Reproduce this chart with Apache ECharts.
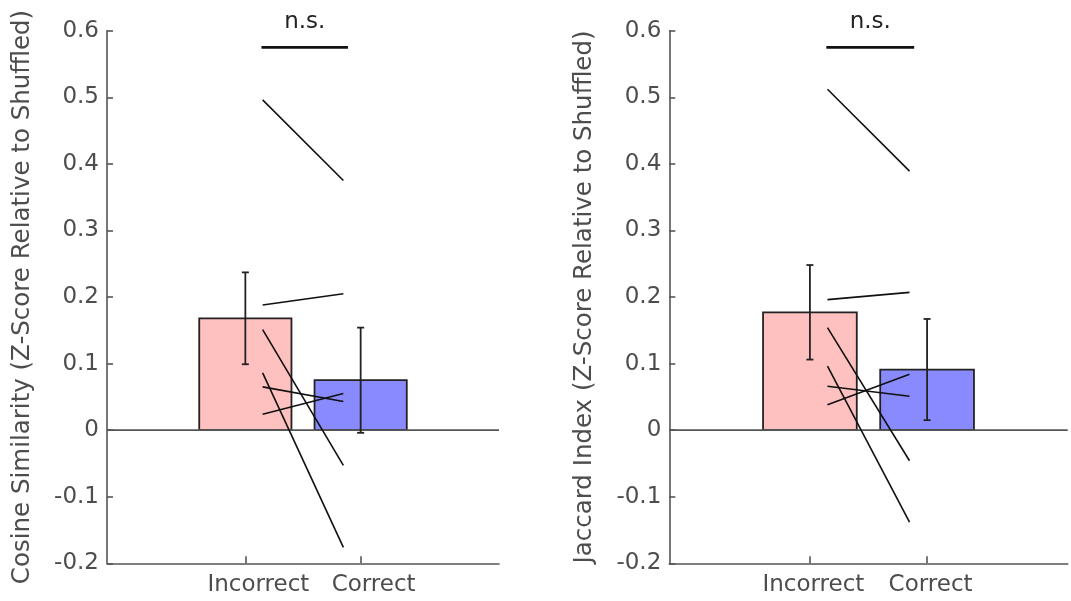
<!DOCTYPE html>
<html>
<head>
<meta charset="utf-8">
<script src="https://cdn.jsdelivr.net/npm/echarts@6/dist/echarts.min.js"></script>
<style>
  html, body { margin: 0; padding: 0; background: #fff; }
  #chart { width: 1071px; height: 601px; }
</style>
</head>
<body>
<div id="chart"></div>
<script>
// Conditions shown on each panel
const groups = ['Incorrect', 'Correct'];

// Cosine similarity: group means and error half-widths
const cosMeans = [0.168, 0.075];
const cosErr = [0.069, 0.079];
// Cosine similarity: per-subject values (Incorrect -> Correct)
const cosIncorrect = [0.496, 0.188, 0.151, 0.086, 0.065, 0.024];
const cosCorrect = [0.375, 0.205, -0.053, -0.176, 0.043, 0.055];

// Jaccard index: group means and error half-widths
const jacMeans = [0.177, 0.091];
const jacErr = [0.071, 0.076];
// Jaccard index: per-subject values (Incorrect -> Correct)
const jacIncorrect = [0.512, 0.196, 0.154, 0.096, 0.066, 0.038];
const jacCorrect = [0.389, 0.207, -0.046, -0.138, 0.051, 0.084];

// Significance bar height and its annotation
const sigLevel = 0.575;
const sigText = 'n.s.';

// Y-axis ticks
const yMin = -0.2, yMax = 0.6, yStep = 0.1;

const yTitles = [
  'Cosine Similarity (Z-Score Relative to Shuffled)',
  'Jaccard Index (Z-Score Relative to Shuffled)'
];

const FONT = 'DejaVu Sans, Liberation Sans, Arial, sans-serif';
const AXIS = '#555555';
const TEXT = '#4d4d4d';
const barColors = ['#ffc0c0', '#8a8aff'];
const BAR_W = 0.8;            // bar width in x units
const PAIR_X = [1.15, 1.85];  // x of paired-line endpoints
const SIG_X = [1.14, 1.89];

const chart = echarts.init(document.getElementById('chart'), null, { renderer: 'canvas' });

function fmtY(v) {
  if (Math.abs(v) < 1e-9) return '0';
  return v.toFixed(1);
}

function makeAxes(i, labelShift) {
  const x = {
    gridIndex: i, type: 'value', min: -0.2, max: 3.2,
    axisLine: { show: true, onZero: false, lineStyle: { color: AXIS, width: 1.6 } },
    splitLine: { show: false },
    axisTick: { show: true, customValues: [1, 2], inside: true, length: 7,
                lineStyle: { color: AXIS, width: 1.6 } },
    axisLabel: { customValues: [1, 2], formatter: v => groups[Math.round(v) - 1],
                 fontSize: 23, fontFamily: FONT, color: TEXT, margin: 10,
                 padding: [0, 0, 0, labelShift] }
  };
  const y = {
    gridIndex: i, type: 'value', min: yMin, max: yMax, interval: yStep,
    axisLine: { show: true, onZero: false, lineStyle: { color: AXIS, width: 1.6 } },
    splitLine: { show: false },
    axisTick: { show: true, inside: true, length: 6, lineStyle: { color: AXIS, width: 1.6 } },
    axisLabel: { formatter: fmtY, fontSize: 23, fontFamily: FONT, color: TEXT, margin: 8 },
    name: yTitles[i], nameLocation: 'middle', nameGap: 72, nameRotate: 90,
    nameTextStyle: { fontSize: 24.5, fontFamily: FONT, color: TEXT }
  };
  return [x, y];
}

function panelSeries(i, means, errs, before, after) {
  const out = [];
  // bars
  out.push({
    type: 'custom', xAxisIndex: i, yAxisIndex: i, z: 2,
    data: means.map((m, k) => [k + 1, m]),
    renderItem: (params, api) => {
      const xv = api.value(0), yv = api.value(1);
      const p0 = api.coord([xv - BAR_W / 2, yv]);
      const p1 = api.coord([xv + BAR_W / 2, 0]);
      return {
        type: 'rect',
        shape: { x: p0[0], y: Math.min(p0[1], p1[1]), width: p1[0] - p0[0],
                 height: Math.abs(p1[1] - p0[1]) },
        style: { fill: barColors[params.dataIndex], stroke: '#222', lineWidth: 1.8 }
      };
    }
  });
  // zero baseline
  out.push({
    type: 'line', xAxisIndex: i, yAxisIndex: i, z: 3, silent: true,
    data: [[-0.2, 0], [3.2, 0]], symbol: 'none',
    lineStyle: { color: AXIS, width: 1.6 }
  });
  // error bars
  out.push({
    type: 'custom', xAxisIndex: i, yAxisIndex: i, z: 4,
    data: means.map((m, k) => [k + 1, m, errs[k]]),
    renderItem: (params, api) => {
      const xv = api.value(0), m = api.value(1), e = api.value(2);
      const top = api.coord([xv, m + e]);
      const bot = api.coord([xv, m - e]);
      const c = 3.5;
      const st = { stroke: '#222', lineWidth: 1.8 };
      return {
        type: 'group',
        children: [
          { type: 'line', shape: { x1: top[0], y1: top[1], x2: bot[0], y2: bot[1] }, style: st },
          { type: 'line', shape: { x1: top[0] - c, y1: top[1], x2: top[0] + c, y2: top[1] }, style: st },
          { type: 'line', shape: { x1: bot[0] - c, y1: bot[1], x2: bot[0] + c, y2: bot[1] }, style: st }
        ]
      };
    }
  });
  // paired subject lines
  before.forEach((b, k) => {
    out.push({
      type: 'line', xAxisIndex: i, yAxisIndex: i, z: 5, silent: true,
      data: [[PAIR_X[0], b], [PAIR_X[1], after[k]]], symbol: 'none',
      lineStyle: { color: '#111', width: 1.6 }
    });
  });
  // significance bar
  out.push({
    type: 'line', xAxisIndex: i, yAxisIndex: i, z: 5, silent: true,
    data: [[SIG_X[0], sigLevel], [SIG_X[1], sigLevel]], symbol: 'none',
    lineStyle: { color: '#111', width: 2.8 }
  });
  out.push({
    type: 'custom', xAxisIndex: i, yAxisIndex: i, z: 5,
    data: [[(SIG_X[0] + SIG_X[1]) / 2, sigLevel]],
    renderItem: (params, api) => {
      const p = api.coord([api.value(0), api.value(1)]);
      return {
        type: 'text',
        style: { text: sigText, x: p[0], y: p[1] - 25, align: 'center', verticalAlign: 'middle',
                 fontSize: 23, fontFamily: FONT, fill: '#222' }
      };
    }
  });
  return out;
}

const a0 = makeAxes(0, 26);
const a1 = makeAxes(1, 7);

chart.setOption({
  animation: false,
  backgroundColor: '#ffffff',
  grid: [
    { left: 107, top: 30.7, width: 392, height: 532.6, containLabel: false, outerBoundsMode: 'none' },
    { left: 669.3, top: 30.7, width: 398.4, height: 532.6, containLabel: false, outerBoundsMode: 'none' }
  ],
  xAxis: [a0[0], a1[0]],
  yAxis: [a0[1], a1[1]],
  series: [].concat(
    panelSeries(0, cosMeans, cosErr, cosIncorrect, cosCorrect),
    panelSeries(1, jacMeans, jacErr, jacIncorrect, jacCorrect)
  )
});
</script>
</body>
</html>
